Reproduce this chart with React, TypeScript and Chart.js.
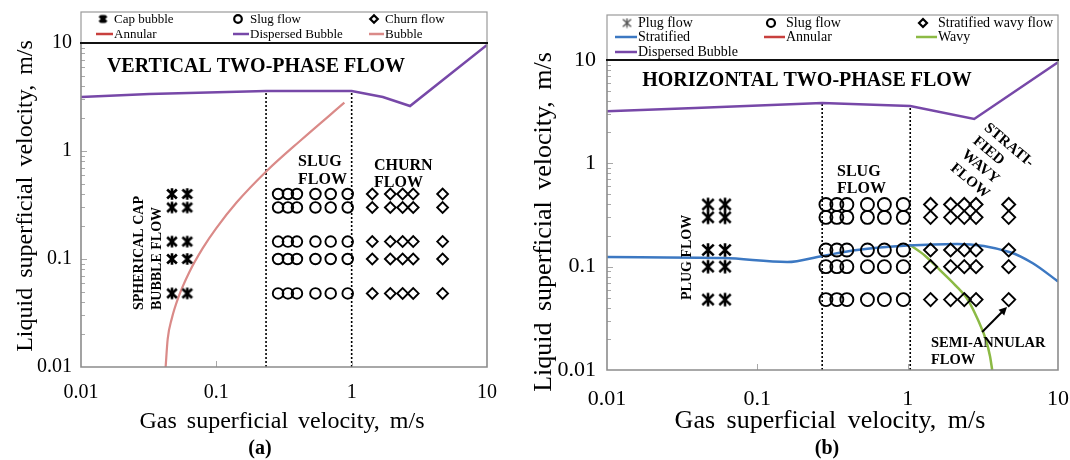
import React, { useEffect, useRef } from 'react';
import { Chart, registerables } from 'chart.js';
Chart.register(...registerables);

const SERIF = '"Liberation Serif", "Times New Roman", Times, serif';

// ---------- axis ----------
const tickValues = [0.01, 0.1, 1, 10];
const axisMin = 0.01;
const axisMax = 10;

// ---------- experimental points shared by both maps (m/s) ----------
const liquidRows = [0.4, 0.3, 0.145, 0.1, 0.048];
const bubbleGas = [0.047, 0.061]; // cap bubble / plug flow
const slugGas = [0.286, 0.338, 0.394, 0.54, 0.7, 0.935];
const churnGas = [1.42, 1.93, 2.38, 2.85, 4.7]; // churn / stratified wavy

// ---------- (a) vertical ----------
const vLabels = ['Cap bubble', 'Slug flow', 'Churn flow', 'Annular', 'Dispersed Bubble', 'Bubble'];
const vDispersedGas = [0.01, 0.032, 0.233, 1.0, 1.7, 2.7, 10];
const vDispersedLiq = [3.16, 3.37, 3.59, 3.59, 3.16, 2.61, 9.6];
const vBubbleGas = [0.0422, 0.0437, 0.0468, 0.0525, 0.0631, 0.0794, 0.1, 0.141, 0.2355, 0.417, 0.883];
const vBubbleLiq = [0.01, 0.0181, 0.0279, 0.0443, 0.0755, 0.126, 0.193, 0.333, 0.653, 1.245, 2.8];
const vBoundaryGas = [0.233, 1.0];
const vBoundaryTop = [3.59, 3.59];

// ---------- (b) horizontal ----------
const hLabels = ['Plug flow', 'Slug flow', 'Stratified wavy flow', 'Stratified', 'Annular', 'Wavy', 'Dispersed Bubble'];
const hDispersedGas = [0.01, 0.0386, 0.27, 1.04, 2.77, 10];
const hDispersedLiq = [3.2, 3.43, 3.84, 3.59, 2.69, 9.5];
const hStratGas = [0.01, 0.06, 0.158, 0.27, 0.46, 1.0, 2.13, 4.8, 6.8, 10];
const hStratLiq = [0.124, 0.121, 0.111, 0.127, 0.145, 0.16, 0.166, 0.138, 0.108, 0.072];
const hWavyGas = [1.04, 1.31, 1.64, 2.07, 2.52, 2.94, 3.32, 3.53, 3.65];
const hWavyLiq = [0.162, 0.127, 0.0927, 0.0664, 0.0475, 0.0304, 0.0195, 0.0136, 0.01];
const hBoundaryGas = [0.27, 1.04];
const hBoundaryTop = [3.84, 3.59];
const hArrowGas = [3.13, 4.58];
const hArrowLiq = [0.0233, 0.0407];

const PURPLE = '#7748A8';
const SALMON = '#DA8A88';
const RED = '#C8403E';
const BLUE = '#3C78C2';
const GREEN = '#8CBA45';

type Note = { lines: string[]; x: number; y: number; size: number; lh?: number; rot?: number; align?: CanvasTextAlign; bold?: boolean; base?: CanvasTextBaseline; ws?: number };
type Col = { marker: number; x0: number; x1: number; text: number };
type Panel = {
  width: number; height: number;
  area: { l: number; r: number; t: number; b: number };
  legendTop: number; legendCols: Col[]; legendRows: number[]; legendFont: number; legendR: number;
  labels: string[];
  tickSize: number; xPad: number; yPad: number;
  notes: Note[];
  arrow?: { gas: number[]; liq: number[] };
  legendStar?: HTMLCanvasElement;
};

function makeAsterisk(size: number, lw: number, color: string) {
  const c = document.createElement('canvas');
  c.width = size; c.height = size;
  const g = c.getContext('2d')!;
  const m = size / 2, r = size / 2 - lw / 2;
  g.strokeStyle = color; g.lineWidth = lw;
  g.beginPath();
  g.moveTo(m, m - r); g.lineTo(m, m + r);
  const dx = r * 0.85, dy = r * 0.8;
  g.moveTo(m - dx, m - dy); g.lineTo(m + dx, m + dy);
  g.moveTo(m + dx, m - dy); g.lineTo(m - dx, m + dy);
  g.stroke();
  return c;
}

const grid = (gas: number[], liq: number[]) => liq.flatMap((l) => gas.map((g) => ({ x: g, y: l })));
const curve = (gas: number[], liq: number[]) => gas.map((g, i) => ({ x: g, y: liq[i] }));
const vline = (x: number, top: number) => [{ x, y: axisMin }, { x, y: top }];

function drawNote(ctx: CanvasRenderingContext2D, n: Note) {
  ctx.save();
  ctx.translate(n.x, n.y);
  if (n.rot) ctx.rotate((n.rot * Math.PI) / 180);
  ctx.font = `${n.bold ? 'bold ' : ''}${n.size}px ${SERIF}`;
  ctx.fillStyle = '#000';
  ctx.textAlign = n.align || 'left';
  ctx.textBaseline = n.base || 'middle';
  (ctx as any).wordSpacing = `${n.ws || 0}px`;
  n.lines.forEach((t, i) => ctx.fillText(t, 0, i * (n.lh || n.size * 1.15)));
  ctx.restore();
}

function annotate(p: Panel) {
  return {
    id: 'annotate',
    afterDraw(chart: any) {
      const ctx: CanvasRenderingContext2D = chart.ctx;
      const { left, right, top, bottom } = chart.chartArea;
      const xs = chart.scales.x, ys = chart.scales.y;
      ctx.save();
      // minor ticks inside the y axis
      ctx.strokeStyle = '#a8a8a8'; ctx.lineWidth = 1;
      ctx.beginPath();
      for (let e = -2; e <= 0; e++) {
        for (let k = 1; k <= 9; k++) {
          if (k === 1 && e === -2) continue;
          const py = Math.round(ys.getPixelForValue(k * Math.pow(10, e))) + 0.5;
          ctx.moveTo(left, py); ctx.lineTo(left + (k === 1 ? 6 : 4), py);
        }
      }
      [0.1, 1].forEach((v) => {
        const px = Math.round(xs.getPixelForValue(v)) + 0.5;
        ctx.moveTo(px, bottom); ctx.lineTo(px, bottom - 6);
      });
      ctx.stroke();
      // frame
      ctx.strokeStyle = '#8c8c8c'; ctx.lineWidth = 1.6;
      ctx.beginPath();
      ctx.moveTo(left, top); ctx.lineTo(left, bottom); ctx.lineTo(right, bottom); ctx.lineTo(right, top);
      ctx.stroke();
      ctx.strokeStyle = '#9a9a9a'; ctx.lineWidth = 1.2;
      ctx.strokeRect(left, p.legendTop, right - left, top - p.legendTop);
      ctx.strokeStyle = '#111'; ctx.lineWidth = 2.2;
      ctx.beginPath(); ctx.moveTo(left - 1, top); ctx.lineTo(right + 1, top); ctx.stroke();

      // legend
      const items = chart.data.datasets.filter((d: any) => p.labels.includes(d.label));
      ctx.font = `${p.legendFont}px ${SERIF}`;
      ctx.textBaseline = 'middle'; ctx.textAlign = 'left'; ctx.fillStyle = '#000';
      items.forEach((d: any, i: number) => {
        const col = p.legendCols[i % 3];
        const y = p.legendRows[Math.floor(i / 3)];
        if (d.showLine) {
          ctx.strokeStyle = d.borderColor; ctx.lineWidth = 2.5;
          ctx.beginPath(); ctx.moveTo(col.x0, y); ctx.lineTo(col.x1, y); ctx.stroke();
        } else if (typeof d.pointStyle !== 'string') {
          const s = p.legendStar!;
          ctx.drawImage(s, col.marker - s.width / 2, y - s.height / 2);
        } else {
          const r = p.legendR;
          ctx.beginPath();
          if (d.pointStyle === 'circle') ctx.arc(col.marker, y, r, 0, Math.PI * 2);
          else { ctx.moveTo(col.marker - r, y); ctx.lineTo(col.marker, y - r); ctx.lineTo(col.marker + r, y); ctx.lineTo(col.marker, y + r); ctx.closePath(); }
          ctx.strokeStyle = '#000'; ctx.lineWidth = 2.2; ctx.stroke();
        }
        ctx.fillText(d.label, col.text, y + 0.5);
      });

      // arrow
      if (p.arrow) {
        const x0 = xs.getPixelForValue(p.arrow.gas[0]), y0 = ys.getPixelForValue(p.arrow.liq[0]);
        const x1 = xs.getPixelForValue(p.arrow.gas[1]), y1 = ys.getPixelForValue(p.arrow.liq[1]);
        const a = Math.atan2(y1 - y0, x1 - x0);
        ctx.strokeStyle = '#000'; ctx.fillStyle = '#000'; ctx.lineWidth = 2;
        ctx.beginPath(); ctx.moveTo(x0, y0); ctx.lineTo(x1 - 5 * Math.cos(a), y1 - 5 * Math.sin(a)); ctx.stroke();
        ctx.beginPath();
        ctx.moveTo(x1, y1);
        ctx.lineTo(x1 - 8 * Math.cos(a) + 4 * Math.sin(a), y1 - 8 * Math.sin(a) - 4 * Math.cos(a));
        ctx.lineTo(x1 - 8 * Math.cos(a) - 4 * Math.sin(a), y1 - 8 * Math.sin(a) + 4 * Math.cos(a));
        ctx.closePath(); ctx.fill();
      }
      p.notes.forEach((n) => drawNote(ctx, n));
      ctx.restore();
    },
  };
}

function buildConfig(p: Panel, datasets: any[]): any {
  const fixPad = (s: any) => { s.paddingLeft = 0; s.paddingRight = 0; s.paddingTop = 0; s.paddingBottom = 0; };
  const ticks = (pad: number) => ({
    font: { family: SERIF, size: p.tickSize }, color: '#000', padding: pad,
    maxRotation: 0, autoSkip: false, callback: (v: any) => String(v),
  });
  return {
    type: 'scatter',
    data: { datasets },
    options: {
      responsive: false, animation: false, events: [],
      layout: { padding: { left: 0, top: p.area.t, right: p.width - p.area.r, bottom: 0 } },
      plugins: { legend: { display: false }, tooltip: { enabled: false } },
      scales: {
        x: {
          type: 'logarithmic', position: 'bottom', min: axisMin, max: axisMax,
          grid: { display: false, drawTicks: false }, border: { display: false },
          afterBuildTicks: (s: any) => { s.ticks = tickValues.map((v) => ({ value: v })); },
          afterFit: (s: any) => { s.height = p.height - p.area.b; fixPad(s); },
          ticks: ticks(p.xPad),
        },
        y: {
          type: 'logarithmic', position: 'left', min: axisMin, max: axisMax,
          grid: { display: false, drawTicks: false }, border: { display: false },
          afterBuildTicks: (s: any) => { s.ticks = tickValues.map((v) => ({ value: v })); },
          afterFit: (s: any) => { s.width = p.area.l; fixPad(s); },
          ticks: ticks(p.yPad),
        },
      },
    },
    plugins: [annotate(p)],
  };
}

const markerSet = (label: string, data: any[], style: any, r: number) => ({
  label, data, showLine: false, pointStyle: style, pointRadius: r, pointHoverRadius: r,
  pointBorderColor: '#000', pointBackgroundColor: 'rgba(0,0,0,0)', pointBorderWidth: 1.9,
  borderColor: '#000', backgroundColor: 'rgba(0,0,0,0)',
});
const lineSet = (label: string, data: any[], color: string, w: number, extra: any = {}) => ({
  label, data, showLine: true, borderColor: color, backgroundColor: color, borderWidth: w,
  pointRadius: 0, pointHoverRadius: 0, ...extra,
});

export default function App() {
  const leftRef = useRef<HTMLCanvasElement>(null);
  const rightRef = useRef<HTMLCanvasElement>(null);

  useEffect(() => {
    const starL = makeAsterisk(14, 2.6, '#000');
    const starR = makeAsterisk(16, 2.6, '#000');
    const dash = { borderDash: [2, 2] };

    const vPanel: Panel = {
      width: 520, height: 460, area: { l: 81, r: 487, t: 43, b: 367 },
      legendTop: 12, legendRows: [19, 34], legendFont: 13, legendR: 3.8,
      legendCols: [
        { marker: 103, x0: 96, x1: 113, text: 114 },
        { marker: 238, x0: 233, x1: 249, text: 250 },
        { marker: 374, x0: 369, x1: 384, text: 385 },
      ],
      labels: vLabels, tickSize: 20, xPad: 14, yPad: 9,
      legendStar: makeAsterisk(11, 3, '#000'),
      notes: [
        { lines: ['VERTICAL TWO-PHASE FLOW'], x: 256, y: 67, size: 20, bold: true, align: 'center' },
        { lines: ['SLUG', 'FLOW'], x: 298, y: 162, size: 16, lh: 18, bold: true },
        { lines: ['CHURN', 'FLOW'], x: 374, y: 166, size: 16, lh: 17, bold: true },
        { lines: ['SPHERICAL CAP', 'BUBBLE FLOW'], x: 139, y: 310, size: 14, lh: 18, bold: true, rot: -90 },
        { lines: ['Liquid superficial velocity, m/s'], x: 32, y: 196, size: 24, rot: -90, align: 'center', base: 'alphabetic', ws: 4 },
        { lines: ['Gas superficial velocity, m/s'], x: 282, y: 428, size: 24, align: 'center', base: 'alphabetic', ws: 4 },
        { lines: ['(a)'], x: 260, y: 449, size: 20, bold: true, align: 'center' },
      ],
    };
    const vData = [
      markerSet(vLabels[0], grid(bubbleGas, liquidRows), starL, 7),
      markerSet(vLabels[1], grid(slugGas, liquidRows), 'circle', 5.3),
      markerSet(vLabels[2], grid(churnGas, liquidRows), 'rectRot', 5.4),
      lineSet(vLabels[3], [], RED, 2.5),
      lineSet(vLabels[4], curve(vDispersedGas, vDispersedLiq), PURPLE, 2.5),
      lineSet(vLabels[5], curve(vBubbleGas, vBubbleLiq), SALMON, 2.2, { cubicInterpolationMode: 'monotone' }),
      lineSet('boundary 1', vline(vBoundaryGas[0], vBoundaryTop[0]), '#000', 1.6, dash),
      lineSet('boundary 2', vline(vBoundaryGas[1], vBoundaryTop[1]), '#000', 1.6, dash),
    ];

    const hPanel: Panel = {
      width: 550, height: 460, area: { l: 87, r: 538, t: 60, b: 370 },
      legendTop: 15, legendRows: [23, 37, 52], legendFont: 14, legendR: 4,
      legendCols: [
        { marker: 107, x0: 95, x1: 117, text: 118 },
        { marker: 251, x0: 244, x1: 265, text: 266 },
        { marker: 403, x0: 396, x1: 417, text: 418 },
      ],
      labels: hLabels, tickSize: 22, xPad: 16, yPad: 11,
      legendStar: makeAsterisk(11, 1.4, '#555'),
      arrow: { gas: hArrowGas, liq: hArrowLiq },
      notes: [
        { lines: ['HORIZONTAL TWO-PHASE FLOW'], x: 287, y: 81, size: 20, bold: true, align: 'center' },
        { lines: ['SLUG', 'FLOW'], x: 317, y: 172, size: 16, lh: 17, bold: true },
        { lines: ['PLUG FLOW'], x: 167, y: 300, size: 14, bold: true, rot: -90 },
        { lines: ['STRATI-', 'FIED', 'WAVY', 'FLOW'], x: 466, y: 126, size: 15, lh: 17.5, bold: true, rot: 40 },
        { lines: ['SEMI-ANNULAR', 'FLOW'], x: 411, y: 343, size: 14.5, lh: 17, bold: true },
        { lines: ['Liquid superficial velocity, m/s'], x: 31, y: 222, size: 26, rot: -90, align: 'center', base: 'alphabetic', ws: 5 },
        { lines: ['Gas superficial velocity, m/s'], x: 310, y: 428, size: 26, align: 'center', base: 'alphabetic', ws: 5 },
        { lines: ['(b)'], x: 307, y: 449, size: 20, bold: true, align: 'center' },
      ],
    };
    const hData = [
      markerSet(hLabels[0], grid(bubbleGas, liquidRows), starR, 8),
      markerSet(hLabels[1], grid(slugGas, liquidRows), 'circle', 6.5),
      markerSet(hLabels[2], grid(churnGas, liquidRows), 'rectRot', 6.5),
      lineSet(hLabels[3], curve(hStratGas, hStratLiq), BLUE, 2.5, { cubicInterpolationMode: 'monotone' }),
      lineSet(hLabels[4], [], RED, 2.5),
      lineSet(hLabels[5], curve(hWavyGas, hWavyLiq), GREEN, 2.5, { cubicInterpolationMode: 'monotone' }),
      lineSet(hLabels[6], curve(hDispersedGas, hDispersedLiq), PURPLE, 2.5),
      lineSet('boundary 1', vline(hBoundaryGas[0], hBoundaryTop[0]), '#000', 1.6, dash),
      lineSet('boundary 2', vline(hBoundaryGas[1], hBoundaryTop[1]), '#000', 1.6, dash),
    ];

    const c1 = new Chart(leftRef.current!, buildConfig(vPanel, vData));
    const c2 = new Chart(rightRef.current!, buildConfig(hPanel, hData));
    return () => { c1.destroy(); c2.destroy(); };
  }, []);

  return (
    <div style={{ position: 'absolute', left: 0, top: 0, width: 1070, height: 460, background: '#fff' }}>
      <canvas ref={leftRef} width={520} height={460} style={{ position: 'absolute', left: 0, top: 0, width: 520, height: 460 }} />
      <canvas ref={rightRef} width={550} height={460} style={{ position: 'absolute', left: 520, top: 0, width: 550, height: 460 }} />
    </div>
  );
}
